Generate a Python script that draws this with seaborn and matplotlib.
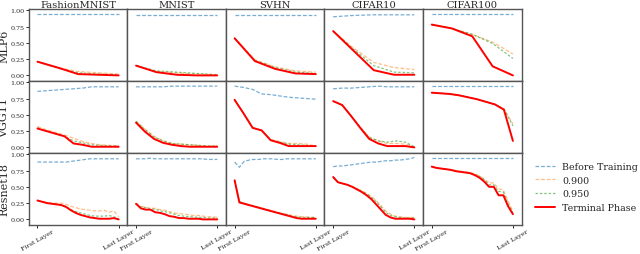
import numpy as np
import pandas as pd
import matplotlib
matplotlib.use("Agg")
import matplotlib.pyplot as plt
import seaborn as sns

datasets = ['FashionMNIST', 'MNIST', 'SVHN', 'CIFAR10', 'CIFAR100']
models = ['MLP6', 'VGG11', 'Resnet18']
series_names = ['Before Training', '0.900', '0.950', 'Terminal Phase']

# ---- MLP6 (5 layers) ----
mlp_before = [
    [0.94, 0.94, 0.94, 0.94, 0.94],
    [0.93, 0.93, 0.93, 0.93, 0.93],
    [0.93, 0.93, 0.93, 0.93, 0.93],
    [0.90, 0.92, 0.93, 0.93, 0.93],
    [0.94, 0.94, 0.94, 0.94, 0.94],
]
mlp_090 = [
    [0.21, 0.12, 0.06, 0.04, 0.02],
    [0.15, 0.06, 0.04, 0.02, 0.01],
    [0.57, 0.24, 0.13, 0.07, 0.05],
    [0.68, 0.42, 0.20, 0.12, 0.09],
    [0.78, 0.72, 0.63, 0.51, 0.33],
]
mlp_095 = [
    [0.21, 0.11, 0.04, 0.02, 0.01],
    [0.15, 0.07, 0.05, 0.03, 0.01],
    [0.57, 0.23, 0.12, 0.05, 0.03],
    [0.68, 0.40, 0.15, 0.05, 0.04],
    [0.78, 0.72, 0.63, 0.49, 0.26],
]
mlp_terminal = [
    [0.21, 0.12, 0.02, 0.01, 0.00],
    [0.15, 0.05, 0.01, 0.00, 0.00],
    [0.57, 0.22, 0.10, 0.03, 0.02],
    [0.68, 0.38, 0.08, 0.01, 0.01],
    [0.78, 0.72, 0.60, 0.14, 0.00],
]

# ---- VGG11 (10 layers) ----
vgg_before = [
    [0.86, 0.87, 0.88, 0.89, 0.90, 0.91, 0.93, 0.93, 0.93, 0.93],
    [0.93, 0.93, 0.93, 0.93, 0.94, 0.94, 0.94, 0.94, 0.94, 0.94],
    [0.94, 0.92, 0.89, 0.82, 0.81, 0.79, 0.77, 0.76, 0.75, 0.74],
    [0.90, 0.91, 0.91, 0.92, 0.93, 0.94, 0.93, 0.93, 0.93, 0.93],
    [0.94, 0.94, 0.94, 0.94, 0.94, 0.94, 0.94, 0.94, 0.94, 0.94],
]
vgg_090 = [
    [0.32, 0.27, 0.23, 0.19, 0.14, 0.09, 0.06, 0.04, 0.03, 0.02],
    [0.40, 0.28, 0.17, 0.10, 0.06, 0.05, 0.04, 0.03, 0.02, 0.02],
    [0.73, 0.52, 0.30, 0.27, 0.12, 0.09, 0.06, 0.06, 0.05, 0.02],
    [0.71, 0.65, 0.48, 0.31, 0.16, 0.10, 0.06, 0.06, 0.05, 0.01],
    [0.84, 0.83, 0.82, 0.80, 0.77, 0.74, 0.70, 0.66, 0.59, 0.36],
]
vgg_095 = [
    [0.30, 0.25, 0.21, 0.17, 0.10, 0.07, 0.04, 0.03, 0.02, 0.02],
    [0.40, 0.27, 0.16, 0.10, 0.06, 0.05, 0.04, 0.03, 0.02, 0.02],
    [0.73, 0.52, 0.30, 0.26, 0.11, 0.08, 0.05, 0.04, 0.03, 0.02],
    [0.71, 0.65, 0.48, 0.31, 0.15, 0.10, 0.08, 0.10, 0.08, 0.01],
    [0.84, 0.83, 0.82, 0.80, 0.77, 0.74, 0.70, 0.66, 0.59, 0.33],
]
vgg_terminal = [
    [0.29, 0.25, 0.21, 0.17, 0.06, 0.04, 0.01, 0.01, 0.01, 0.01],
    [0.38, 0.24, 0.13, 0.07, 0.04, 0.02, 0.01, 0.01, 0.01, 0.01],
    [0.73, 0.52, 0.30, 0.26, 0.11, 0.07, 0.02, 0.02, 0.02, 0.02],
    [0.71, 0.65, 0.48, 0.30, 0.13, 0.06, 0.02, 0.02, 0.02, 0.00],
    [0.84, 0.83, 0.82, 0.80, 0.77, 0.74, 0.70, 0.66, 0.58, 0.10],
]

# ---- Resnet18 (18 layers) ----
res_before = [
    [0.88, 0.88, 0.88, 0.88, 0.88, 0.88, 0.88, 0.89, 0.90, 0.91, 0.92, 0.93, 0.93, 0.93, 0.93, 0.93, 0.93, 0.93],
    [0.93, 0.93, 0.93, 0.94, 0.93, 0.93, 0.93, 0.93, 0.93, 0.93, 0.93, 0.93, 0.93, 0.93, 0.93, 0.92, 0.92, 0.92],
    [0.88, 0.80, 0.89, 0.91, 0.92, 0.92, 0.93, 0.93, 0.93, 0.92, 0.92, 0.93, 0.93, 0.93, 0.93, 0.93, 0.93, 0.93],
    [0.81, 0.82, 0.82, 0.83, 0.84, 0.85, 0.86, 0.87, 0.88, 0.88, 0.89, 0.90, 0.90, 0.91, 0.91, 0.92, 0.93, 0.95],
    [0.94, 0.94, 0.94, 0.94, 0.94, 0.94, 0.94, 0.94, 0.94, 0.94, 0.94, 0.94, 0.94, 0.94, 0.94, 0.94, 0.94, 0.94],
]
res_090 = [
    [0.29, 0.27, 0.26, 0.25, 0.25, 0.25, 0.23, 0.20, 0.18, 0.16, 0.15, 0.14, 0.13, 0.13, 0.14, 0.11, 0.13, 0.04],
    [0.24, 0.20, 0.19, 0.17, 0.17, 0.15, 0.14, 0.12, 0.10, 0.09, 0.08, 0.07, 0.06, 0.06, 0.05, 0.04, 0.04, 0.03],
    [0.60, 0.27, 0.25, 0.23, 0.21, 0.19, 0.17, 0.15, 0.13, 0.11, 0.09, 0.08, 0.06, 0.05, 0.04, 0.04, 0.03, 0.03],
    [0.65, 0.57, 0.55, 0.53, 0.50, 0.47, 0.44, 0.40, 0.35, 0.29, 0.21, 0.13, 0.08, 0.05, 0.04, 0.03, 0.03, 0.03],
    [0.81, 0.79, 0.78, 0.77, 0.76, 0.75, 0.74, 0.73, 0.72, 0.70, 0.67, 0.62, 0.56, 0.56, 0.47, 0.45, 0.28, 0.12],
]
res_095 = [
    [0.29, 0.27, 0.25, 0.24, 0.23, 0.22, 0.20, 0.15, 0.12, 0.10, 0.08, 0.06, 0.05, 0.05, 0.05, 0.06, 0.04, 0.01],
    [0.24, 0.19, 0.18, 0.15, 0.16, 0.13, 0.12, 0.10, 0.08, 0.06, 0.05, 0.04, 0.04, 0.03, 0.03, 0.02, 0.02, 0.02],
    [0.60, 0.27, 0.25, 0.22, 0.20, 0.18, 0.16, 0.14, 0.12, 0.10, 0.09, 0.07, 0.05, 0.04, 0.03, 0.03, 0.03, 0.03],
    [0.65, 0.57, 0.55, 0.53, 0.50, 0.47, 0.43, 0.39, 0.34, 0.27, 0.19, 0.11, 0.06, 0.04, 0.03, 0.02, 0.02, 0.02],
    [0.81, 0.79, 0.78, 0.77, 0.76, 0.75, 0.73, 0.72, 0.71, 0.69, 0.66, 0.61, 0.53, 0.53, 0.43, 0.42, 0.24, 0.10],
]
res_terminal = [
    [0.29, 0.27, 0.25, 0.24, 0.23, 0.22, 0.19, 0.14, 0.10, 0.07, 0.05, 0.03, 0.02, 0.01, 0.01, 0.01, 0.02, 0.00],
    [0.24, 0.17, 0.15, 0.15, 0.11, 0.10, 0.08, 0.05, 0.04, 0.02, 0.02, 0.01, 0.01, 0.01, 0.00, 0.00, 0.00, 0.00],
    [0.60, 0.26, 0.24, 0.22, 0.20, 0.18, 0.16, 0.14, 0.12, 0.10, 0.08, 0.06, 0.04, 0.02, 0.01, 0.01, 0.01, 0.01],
    [0.65, 0.57, 0.55, 0.53, 0.50, 0.46, 0.42, 0.37, 0.31, 0.23, 0.15, 0.07, 0.03, 0.01, 0.01, 0.01, 0.01, 0.00],
    [0.81, 0.79, 0.78, 0.77, 0.76, 0.74, 0.73, 0.72, 0.71, 0.68, 0.64, 0.58, 0.50, 0.50, 0.37, 0.37, 0.20, 0.08],
]

all_data = {
    'MLP6': [mlp_before, mlp_090, mlp_095, mlp_terminal],
    'VGG11': [vgg_before, vgg_090, vgg_095, vgg_terminal],
    'Resnet18': [res_before, res_090, res_095, res_terminal],
}

palette = {'Before Training': '#1f77b4', '0.900': '#ff7f0e',
           '0.950': '#2ca02c', 'Terminal Phase': '#ff0000'}
styles = {'Before Training': dict(ls=(0, (3, 1.5)), lw=0.9, alpha=0.6),
          '0.900': dict(ls=(0, (3, 1.5)), lw=0.9, alpha=0.5),
          '0.950': dict(ls=(0, (2, 1.5)), lw=0.9, alpha=0.6),
          'Terminal Phase': dict(ls='-', lw=1.4, alpha=1.0)}

sns.set_style("ticks")
plt.rcParams['font.family'] = ['DejaVu Serif']

fig, axes = plt.subplots(3, 5, figsize=(6.4, 2.55), dpi=100)
fig.subplots_adjust(left=0.045, right=0.815, top=0.961, bottom=0.114,
                    wspace=0, hspace=0)

for r, model in enumerate(models):
    for c, ds in enumerate(datasets):
        ax = axes[r, c]
        for s, name in enumerate(series_names):
            y = all_data[model][s][c]
            x = np.arange(len(y))
            st = styles[name]
            sns.lineplot(x=x, y=y, ax=ax, color=palette[name], label=name,
                         linestyle=st['ls'], linewidth=st['lw'], alpha=st['alpha'],
                         legend=False)
        n = len(all_data[model][0][c])
        ax.set_xlim(-0.107 * (n - 1), (n - 1) * 1.107)
        ax.set_ylim(-0.085, 1.02)
        for sp in ax.spines.values():
            sp.set_color('#555555')
            sp.set_linewidth(1.0)
        if c == 0:
            ax.set_yticks([0, 0.25, 0.5, 0.75, 1.0])
            ax.set_yticklabels(['0.00', '0.25', '0.50', '0.75', '1.00'], fontsize=4.6)
            ax.set_ylabel(model, fontsize=8)
            ax.yaxis.set_label_coords(-0.2, 0.5)
        else:
            ax.set_yticks([])
        ax.tick_params(axis='y', length=2, pad=1, width=0.7)
        if r == 2:
            ax.set_xticks([0, n - 1])
            ax.set_xticklabels(['First Layer', 'Last Layer'], rotation=30,
                               ha='center', fontsize=4.6)
            ax.tick_params(axis='x', length=2, pad=0.8, width=0.7)
        else:
            ax.set_xticks([])
        if r == 0:
            ax.set_title(ds, fontsize=7.1, pad=1.5)

handles = []
for name in series_names:
    st = styles[name]
    h, = axes[0, 0].plot([], [], color=palette[name], linestyle=st['ls'],
                         linewidth=st['lw'], alpha=st['alpha'], label=name)
    handles.append(h)
fig.legend(handles=handles, labels=series_names, loc='center left',
           bbox_to_anchor=(0.836, 0.263), frameon=False, fontsize=6.8,
           handlelength=2.1, labelspacing=0.5, handletextpad=0.8,
           borderpad=0, borderaxespad=0)

plt.savefig('out.png', dpi=100)
